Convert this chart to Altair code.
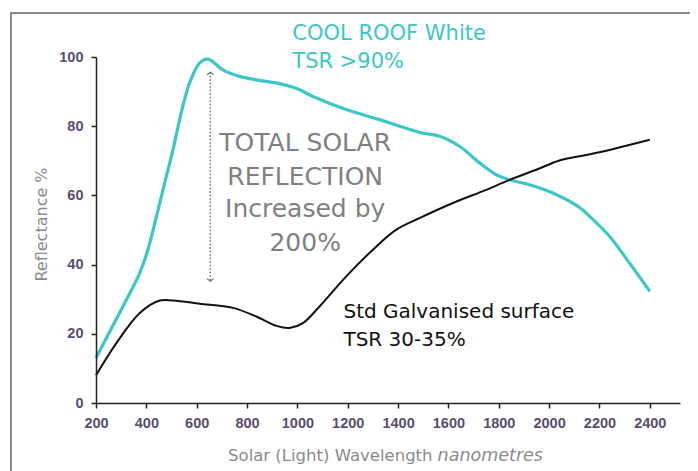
import altair as alt
import pandas as pd

# ---- data ----
cool_wl = [200, 250, 307, 340, 374, 405, 440, 473, 506, 535, 572, 612, 645, 704, 771, 837, 930, 1000,
           1062, 1194, 1327, 1487, 1565, 1644, 1724, 1790, 1843, 1922, 2015, 2121, 2160, 2240, 2319, 2400]
cool_ref = [13, 20, 27.9, 32.5, 37.6, 44, 53.9, 63.6, 73.2, 82.8, 92.5, 98.3, 99.4, 96.3, 94.4, 93.4, 92.3, 90.8,
            88.6, 84.8, 81.9, 78.2, 77.1, 74.2, 69.4, 66, 64.5, 63.1, 60.7, 56.5, 54, 48.2, 40.5, 32.3]

std_wl = [200, 281, 374, 453, 506, 612, 744, 837, 917, 969, 1022, 1088, 1194, 1300, 1393, 1487, 1618,
          1750, 1843, 1949, 2041, 2121, 2213, 2400]
std_ref = [8, 17.3, 26, 29.6, 29.6, 28.7, 27.5, 25, 22.3, 21.7, 23.1, 27.9, 36.6, 44.3, 50.1, 53.5, 57.8,
           61.6, 64.5, 67.4, 70.1, 71.3, 72.7, 76.1]

x_ticks = [200, 400, 600, 800, 1000, 1200, 1400, 1600, 1800, 2000, 2200, 2400]
y_ticks = [0, 20, 40, 60, 80, 100]

cool_labels = ["COOL ROOF White", "TSR >90%"]
cool_label_wl = [980, 980]
cool_label_ref = [104.9, 96.8]

gain_labels = ["TOTAL SOLAR", "REFLECTION", "Increased by", "200%"]
gain_label_wl = [1031, 1031, 1031, 1031]
gain_label_ref = [72.7, 63.1, 53.9, 43.8]

std_labels = ["Std Galvanised surface", "TSR 30-35%"]
std_label_wl = [1183, 1183]
std_label_ref = [24.6, 16.6]

arrow_wl = [654]
arrow_top = [95.6]
arrow_bottom = [35.2]

x_title_main = "Solar (Light) Wavelength"
x_title_italic = "nanometres"
x_title_wl = [1537, 1557]
x_title_ref = -16.9

TEAL = "#3cc6c8"
FONT = "DejaVu Sans"

df_cool = pd.DataFrame({"wl": cool_wl, "r": cool_ref})
df_std = pd.DataFrame({"wl": std_wl, "r": std_ref})

x_scale = alt.Scale(domain=[200, 2520], nice=False, zero=False)
y_scale = alt.Scale(domain=[0, 100], nice=False, zero=True)

x_axis = alt.Axis(values=x_ticks, format="d", title=None, grid=False, domainColor="#222222",
                  domainWidth=1.5, tickColor="#222222", tickWidth=1.5, tickSize=5,
                  labelFont="Liberation Sans", labelFontSize=14.5, labelFontWeight="bold",
                  labelColor="#5a4c6e", labelPadding=8, labelFlush=False, zindex=1)
y_axis = alt.Axis(values=y_ticks, format="d", title="Reflectance %", grid=False, domainColor="#222222",
                  domainWidth=1.5, tickColor="#222222", tickWidth=1.5, tickSize=5,
                  labelFont="Liberation Sans", labelFontSize=14.5, labelFontWeight="bold",
                  labelColor="#5a4c6e", labelPadding=8, titleFont=FONT, titleFontSize=16,
                  titleFontWeight="normal", titleColor="#8a8a8a", titleX=-47, titleY=167, zindex=1)

X = alt.X("wl:Q", scale=x_scale, axis=x_axis, title=None)
Y = alt.Y("r:Q", scale=y_scale, axis=y_axis, title="Reflectance %")

one = pd.DataFrame({"k": [0]})

frame = alt.Chart(one).mark_rect(filled=False, stroke="#8c8c8c", strokeWidth=2).encode(
    x=alt.value(-85), x2=alt.value(640), y=alt.value(-44), y2=alt.value(440))

cool_line = alt.Chart(df_cool).mark_line(color=TEAL, strokeWidth=3.2, interpolate="catmull-rom").encode(
    x=X, y=Y)

std_line = alt.Chart(df_std).mark_line(color="#111111", strokeWidth=2, interpolate="catmull-rom").encode(
    x=X, y=Y)

df_arrow = pd.DataFrame({"wl": arrow_wl, "r": arrow_top, "r2": arrow_bottom})
arrow_rule = alt.Chart(df_arrow).mark_rule(color="#777777", strokeWidth=1.5, strokeDash=[1.5, 2]).encode(
    x=X, y=Y, y2="r2:Q")
arrow_up = alt.Chart(df_arrow).mark_point(shape="M-1,0.8L0,0L1,0.8", size=40, filled=False,
                                          color="#777777", strokeWidth=1.3, opacity=1).encode(
    x=X, y=Y)
arrow_down = alt.Chart(df_arrow).mark_point(shape="M-1,-0.8L0,0L1,-0.8", size=40, filled=False,
                                            color="#777777", strokeWidth=1.3, opacity=1).encode(
    x=X, y=alt.Y("r2:Q", scale=y_scale, axis=y_axis, title="Reflectance %"))


def text_layer(labels, wls, refs, color, size, align, italic=False):
    d = pd.DataFrame({"t": labels, "wl": wls, "r": refs})
    kw = dict(color=color, fontSize=size, font=FONT, align=align, baseline="alphabetic")
    if italic:
        kw["fontStyle"] = "italic"
    return alt.Chart(d).mark_text(**kw).encode(x=X, y=Y, text="t:N")


cool_text = text_layer(cool_labels, cool_label_wl, cool_label_ref, TEAL, 21, "left")
gain_text = text_layer(gain_labels, gain_label_wl, gain_label_ref, "#808080", 25, "center")
std_text = text_layer(std_labels, std_label_wl, std_label_ref, "#111111", 20, "left")
xt1 = text_layer([x_title_main], [x_title_wl[0]], [x_title_ref], "#8a8a8a", 16.5, "right")
xt2 = text_layer([x_title_italic], [x_title_wl[1]], [x_title_ref], "#8a8a8a", 17.5, "left", italic=True)

chart = alt.layer(
    frame, cool_line, std_line, arrow_rule, arrow_up, arrow_down,
    cool_text, gain_text, std_text, xt1, xt2
).properties(
    width=584, height=346,
    autosize=alt.AutoSizeParams(type="none"),
    padding={"left": 88, "top": 49, "right": 10, "bottom": 76},
    background="white"
).configure_view(stroke=None)

chart.save("out.html", embed_options={"renderer": "svg", "actions": False})
